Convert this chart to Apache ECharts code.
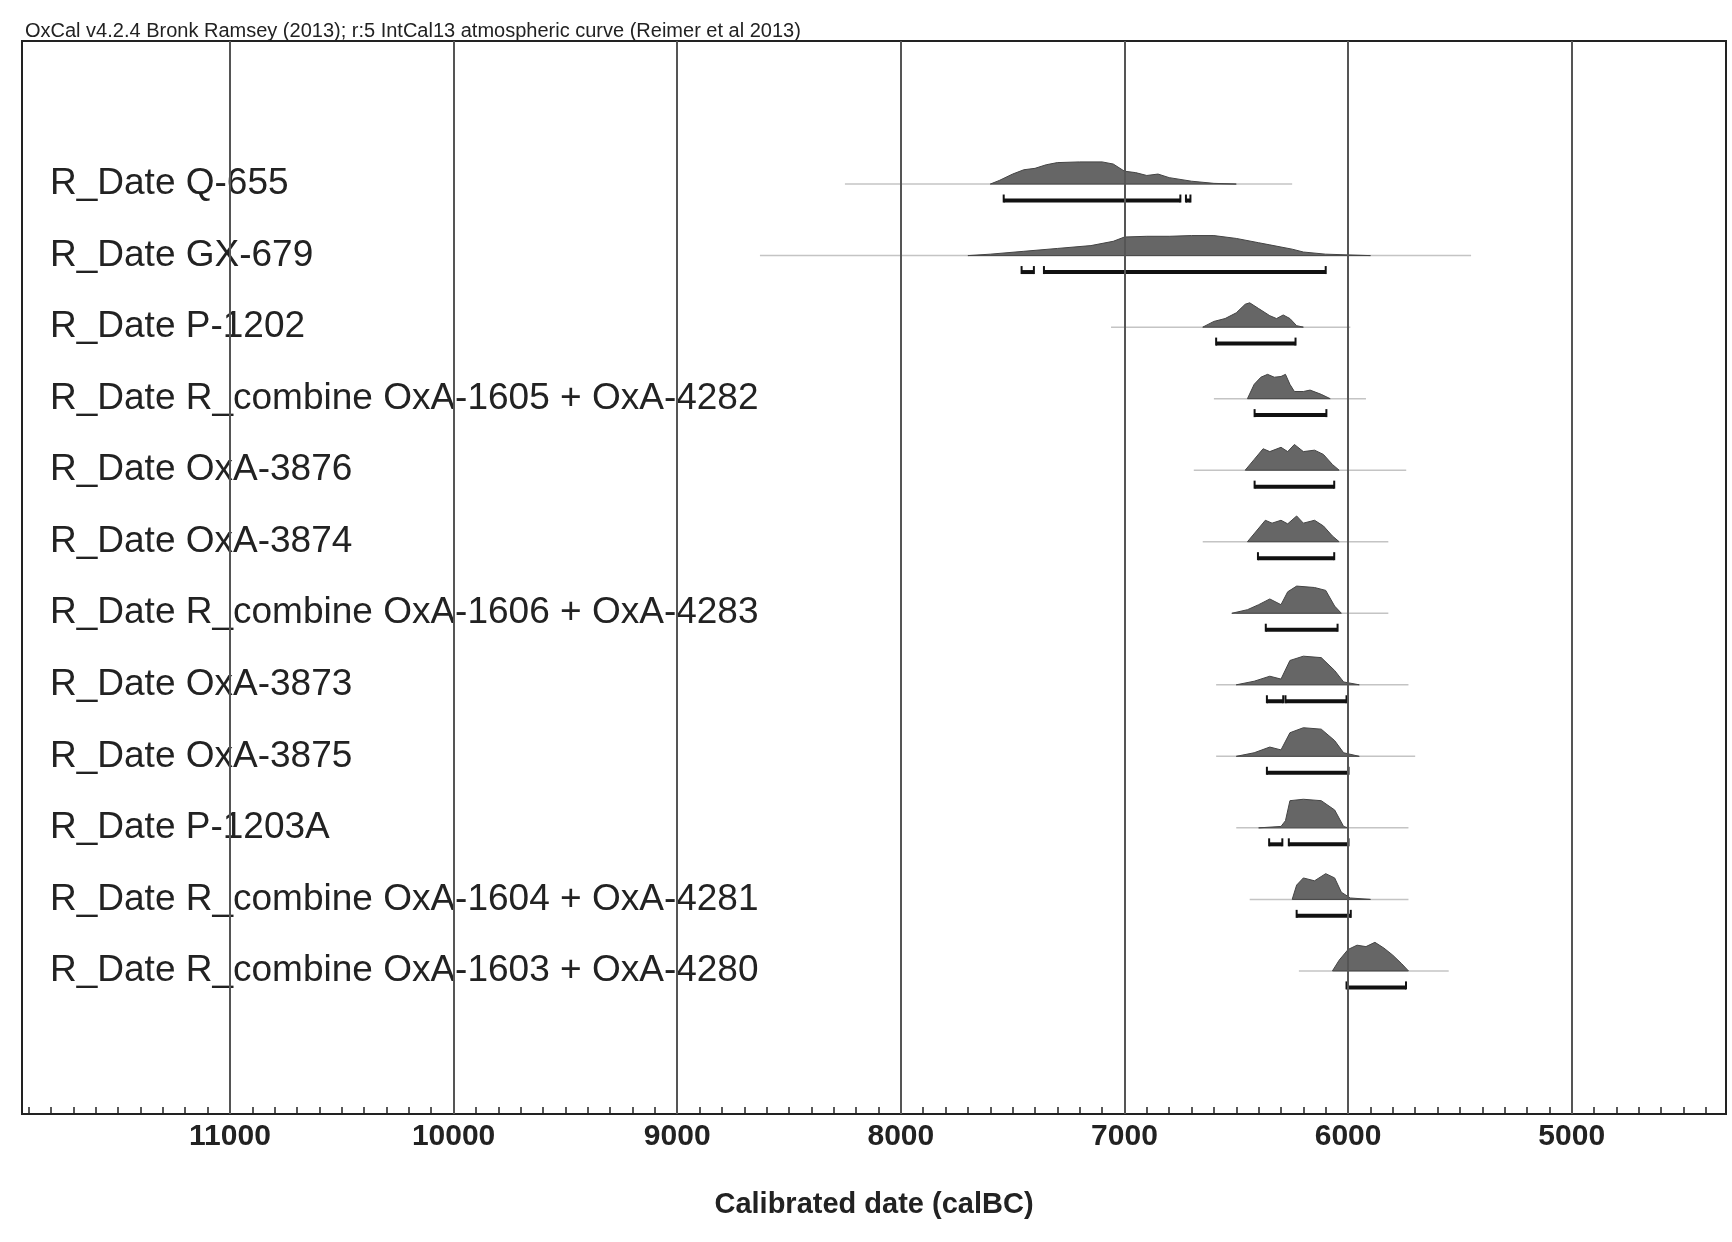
<!DOCTYPE html>
<html>
<head>
<meta charset="utf-8">
<script src="https://cdn.jsdelivr.net/npm/echarts@6/dist/echarts.min.js"></script>
<style>
html, body { margin: 0; padding: 0; background: #fff; }
#chart { width: 1732px; height: 1242px; }
</style>
</head>
<body>
<div id="chart"></div>
<script>
const labels = [
    "R_Date Q-655",
    "R_Date GX-679",
    "R_Date P-1202",
    "R_Date R_combine OxA-1605 + OxA-4282",
    "R_Date OxA-3876",
    "R_Date OxA-3874",
    "R_Date R_combine OxA-1606 + OxA-4283",
    "R_Date OxA-3873",
    "R_Date OxA-3875",
    "R_Date P-1203A",
    "R_Date R_combine OxA-1604 + OxA-4281",
    "R_Date R_combine OxA-1603 + OxA-4280"
];

// thin line extent (calBC) under each distribution
const extents = [
    [8250, 6250], [8630, 5450], [7060, 5990], [6600, 5920], [6690, 5740], [6650, 5820],
    [6500, 5820], [6590, 5730], [6590, 5700], [6500, 5730], [6440, 5730], [6220, 5550]
];

// 95.4% ranges
const ranges = [
    [[7540, 6750], [6725, 6705]],
    [[7460, 7405], [7360, 6100]],
    [[6590, 6235]],
    [[6418, 6097]],
    [[6418, 6062]],
    [[6403, 6062]],
    [[6368, 6047]],
    [[6363, 6290], [6280, 6007]],
    [[6363, 5998]],
    [[6353, 6294], [6265, 5998]],
    [[6230, 5988]],
    [[6007, 5741]]
];

// probability profiles [calBC, height]
const densities = [
    [[7600,0],[7560,0.05],[7500,0.14],[7450,0.2],[7400,0.22],[7350,0.27],[7300,0.3],[7200,0.31],[7100,0.31],[7050,0.28],[7000,0.18],[6950,0.16],[6900,0.12],[6850,0.14],[6800,0.09],[6700,0.04],[6600,0.01],[6500,0]],
    [[7700,0],[7600,0.02],[7450,0.06],[7300,0.1],[7150,0.14],[7050,0.2],[7000,0.26],[6900,0.27],[6800,0.27],[6700,0.28],[6600,0.28],[6500,0.24],[6400,0.18],[6350,0.15],[6300,0.12],[6250,0.09],[6200,0.05],[6100,0.02],[6000,0.01],[5900,0]],
    [[6650,0],[6600,0.08],[6550,0.12],[6500,0.2],[6460,0.32],[6440,0.34],[6400,0.26],[6350,0.16],[6320,0.12],[6290,0.17],[6260,0.12],[6230,0.02],[6200,0]],
    [[6450,0],[6420,0.2],[6390,0.3],[6360,0.34],[6330,0.3],[6300,0.31],[6280,0.34],[6260,0.2],[6240,0.1],[6200,0.1],[6170,0.12],[6120,0.06],[6080,0]],
    [[6460,0],[6420,0.15],[6380,0.3],[6350,0.26],[6300,0.32],[6270,0.26],[6240,0.36],[6200,0.26],[6150,0.28],[6110,0.22],[6070,0.08],[6040,0]],
    [[6450,0],[6410,0.15],[6370,0.3],[6340,0.26],[6300,0.3],[6270,0.25],[6230,0.36],[6200,0.26],[6150,0.3],[6110,0.22],[6070,0.08],[6040,0]],
    [[6520,0],[6450,0.05],[6400,0.12],[6350,0.2],[6300,0.12],[6270,0.3],[6230,0.38],[6150,0.36],[6100,0.32],[6060,0.1],[6030,0]],
    [[6500,0],[6420,0.05],[6350,0.12],[6300,0.08],[6260,0.34],[6200,0.4],[6120,0.38],[6060,0.2],[6020,0.04],[5950,0]],
    [[6500,0],[6420,0.05],[6350,0.13],[6300,0.09],[6260,0.33],[6200,0.4],[6120,0.38],[6060,0.22],[6020,0.05],[5950,0]],
    [[6400,0],[6300,0.02],[6280,0.1],[6260,0.38],[6200,0.4],[6120,0.38],[6060,0.25],[6020,0.02],[6000,0]],
    [[6250,0],[6230,0.2],[6200,0.3],[6150,0.26],[6100,0.36],[6060,0.3],[6030,0.1],[5990,0.02],[5900,0]],
    [[6070,0],[6040,0.15],[6000,0.3],[5960,0.36],[5920,0.34],[5880,0.4],[5840,0.32],[5800,0.22],[5760,0.1],[5730,0]]
];

const majorTicks = [5000, 6000, 7000, 8000, 9000, 10000, 11000];
const minorTicks = [];
for (let v = 4400; v <= 11900; v += 100) minorTicks.push(v);

const chart = echarts.init(document.getElementById("chart"));

function rowY(i) {
    return 13 - i;
}

chart.setOption({
    animation: false,
    title: {
        text: "OxCal v4.2.4 Bronk Ramsey (2013); r:5 IntCal13 atmospheric curve (Reimer et al 2013)",
        left: 20,
        top: 16,
        textStyle: { fontFamily: "Liberation Sans", fontSize: 20, fontWeight: "normal", color: "#222" }
    },
    grid: {
        left: 22, right: 6, top: 41, bottom: 128,
        show: true, borderColor: "#222", borderWidth: 2
    },
    xAxis: {
        type: "value",
        inverse: true,
        min: 4310,
        max: 11930,
        name: "Calibrated date (calBC)",
        nameLocation: "middle",
        nameGap: 76,
        nameTextStyle: { fontFamily: "Liberation Sans", fontSize: 29, color: "#222", fontWeight: "bold" },
        axisLine: { lineStyle: { color: "#222", width: 2 } },
        axisTick: { inside: true, length: 7, customValues: minorTicks, lineStyle: { color: "#222", width: 1.5 } },
        axisLabel: {
            customValues: majorTicks,
            formatter: v => String(v),
            fontFamily: "Liberation Sans", fontSize: 30, color: "#222", fontWeight: "bold", margin: 8
        },
        splitLine: { show: false }
    },
    yAxis: {
        type: "value", min: 0, max: 15,
        show: false
    },
    series: [
        {
            type: "line",
            data: [],
            markLine: {
                silent: true, symbol: "none", label: { show: false },
                lineStyle: { color: "#555", width: 2, type: "solid" },
                data: majorTicks.map(v => ({ xAxis: v }))
            }
        },
        {
            type: "custom",
            data: labels.map((l, i) => i),
            renderItem: function (params, api) {
                const i = api.value(0);
                const y = rowY(i);
                const children = [];
                const e = extents[i];
                const a = api.coord([e[0], y]);
                const b = api.coord([e[1], y]);
                children.push({ type: "line", shape: { x1: a[0], y1: a[1], x2: b[0], y2: b[1] }, style: { stroke: "#c4c4c4", lineWidth: 1.5 } });
                const pts = densities[i].map(p => api.coord([p[0], y + p[1]]));
                children.push({ type: "polygon", shape: { points: pts }, style: { fill: "#666", stroke: "#444", lineWidth: 1 } });
                ranges[i].forEach(r => {
                    const p1 = api.coord([r[0], y - 0.23]);
                    const p2 = api.coord([r[1], y - 0.23]);
                    children.push({ type: "line", shape: { x1: p1[0], y1: p1[1], x2: p2[0], y2: p2[1] }, style: { stroke: "#111", lineWidth: 4 } });
                    children.push({ type: "line", shape: { x1: p1[0], y1: p1[1] - 6, x2: p1[0], y2: p1[1] + 2 }, style: { stroke: "#111", lineWidth: 2 } });
                    children.push({ type: "line", shape: { x1: p2[0], y1: p2[1] - 6, x2: p2[0], y2: p2[1] + 2 }, style: { stroke: "#111", lineWidth: 2 } });
                });
                const t = api.coord([11930, y]);
                children.push({
                    type: "text", x: t[0] + 28, y: t[1],
                    style: { text: labels[i], fill: "#222", font: "37px 'Liberation Sans'", verticalAlign: "middle", align: "left" }
                });
                return { type: "group", children: children };
            }
        }
    ]
});
</script>
</body>
</html>
